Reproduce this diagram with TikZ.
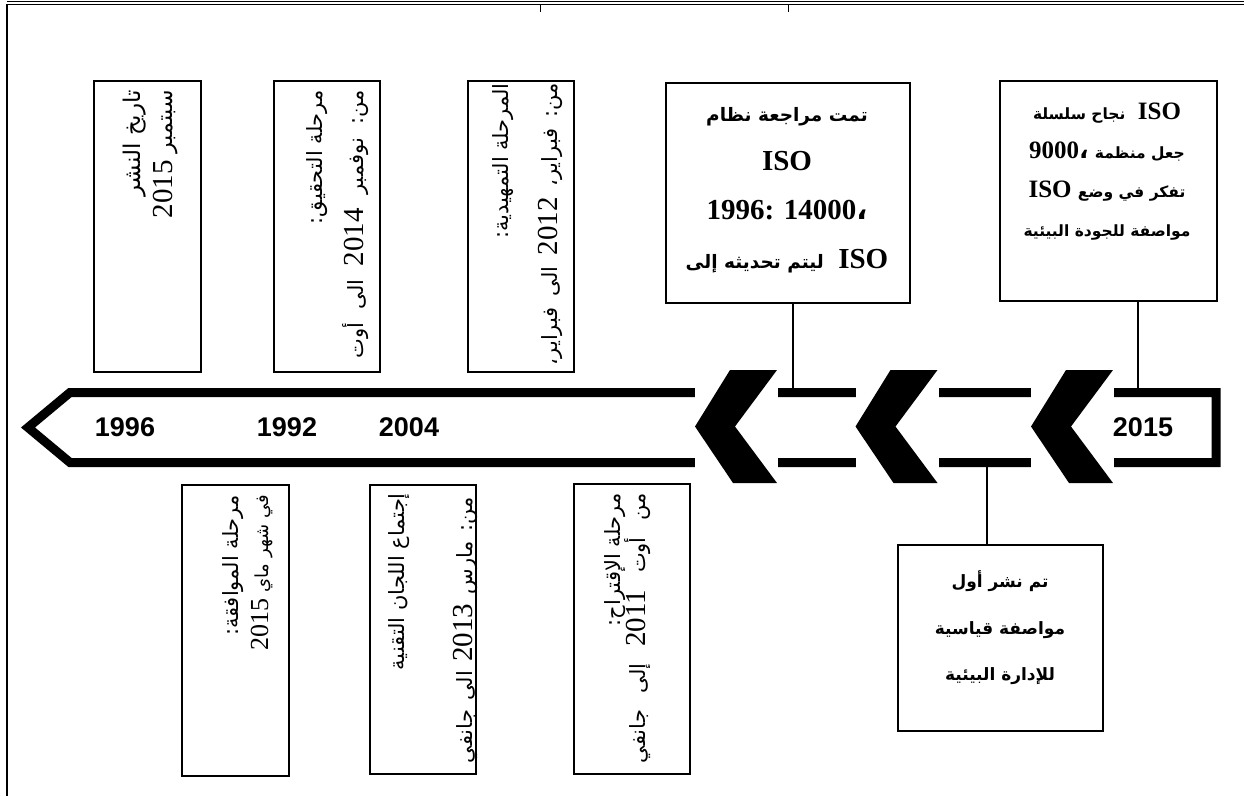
\documentclass[tikz,border=0pt]{standalone}
\usepackage{fontspec}
\setmainfont{Liberation Serif}
\newfontfamily\arab[Script=Arabic]{DejaVu Sans}
\newfontfamily\yrfont{Liberation Sans}
\TeXXeTstate=1
\newcommand\AR[1]{\hbox{\arab\beginR #1\endR}}
\newcommand\JL[2]{\hbox to #1{\arab\beginR #2\endR}}
\newcommand\numf{\rmfamily\fontsize{29}{29}\selectfont}
\newcommand\numg{\rmfamily\fontsize{26}{26}\selectfont}
\usetikzlibrary{calc}
\begin{document}
\begin{tikzpicture}[x=1pt,y=-1pt,
  box/.style={draw, line width=1.6pt, inner sep=0pt, anchor=north west},
  conn/.style={line width=1.2pt},
  rt/.style={rotate=90, anchor=base east, inner sep=0pt, font=\arab\fontsize{21}{21}\selectfont},
  yr/.style={inner sep=0pt, font=\yrfont\bfseries\fontsize{27}{27}\selectfont},
  bt/.style={inner sep=0pt, align=center, font=\bfseries\fontsize{24}{24}\selectfont},
]
\useasboundingbox (0,0) rectangle (1244,796);
\fill[white] (0,0) rectangle (1244,796);
% frame
\draw[line width=0.9pt] (7,1.4) -- (1244,1.4);
\draw[line width=0.9pt] (7,4) -- (1244,4);
\draw[line width=1.2pt] (7,4) -- (7,796);
\draw[line width=1pt] (540,4) -- (540,12);
\draw[line width=1pt] (788,4) -- (788,12);

% timeline band
\draw[line width=9pt, line join=miter] (1216,392.5) -- (70,392.5) -- (28,427.5) -- (70,462.5) -- (1216,462.5) -- cycle;
\coordinate (bandtop) at (0,388);
\coordinate (bandbot) at (0,467);

% chevrons
\foreach \x in {695, 855.5, 1031}{
  \fill[white] (\x,370) rectangle (\x+83,483);
  \fill[black] (\x+35,370) -- (\x+82,370) -- (\x+40,426.5) -- (\x+82,483) -- (\x+38,483) -- (\x,426.5) -- cycle;
}

% years
\node[yr] (y1996) at (125,427) {1996};
\node[yr] (y1992) at (287,427) {1992};
\node[yr] (y2004) at (409,427) {2004};
\node[yr] (y2015) at (1143,427) {2015};

% top rotated boxes
\node[box, minimum width=107pt, minimum height=291pt] (bA) at (93,80) {};
\node[box, minimum width=106pt, minimum height=291pt] (bB) at (273,80) {};
\node[box, minimum width=106pt, minimum height=291pt] (bC) at (467,80) {};

\node[rt, font=\arab\fontsize{23}{23}\selectfont] (tA1) at (140,90) {\AR{تاريخ النشر}};
\node[rt, font=\arab\fontsize{22}{22}\selectfont] (tA2) at (172,90) {\AR{سبتمبر {\numf 2015}}};
\node[rt] (tB1) at (322,90) {\AR{مرحلة التحقيق:}};
\node[rt] (tB2) at (363,90) {\JL{268pt}{من:\hfill نوفمبر\hfill {\numf 2014}\hfill الى\hfill أوت}};
\node[rt] (tC1) at (508,83) {\AR{المرحلة التمهيدية:}};
\node[rt] (tC2) at (557,83) {\JL{282pt}{من:\hfill فبراير،\hfill {\numf 2012}\hfill الى\hfill فبراير،}};

% bottom rotated boxes
\node[box, minimum width=107pt, minimum height=291pt] (bF) at (181,484) {};
\node[box, minimum width=106pt, minimum height=289pt] (bG) at (369,484) {};
\node[box, minimum width=116pt, minimum height=290pt] (bH) at (573,483) {};

\node[rt] (tF1) at (238,495) {\AR{مرحلة الموافقة:}};
\node[rt, font=\arab\fontsize{18}{18}\selectfont] (tF2) at (268,495) {\AR{في شهر ماي {\numg 2015}}};
\node[rt] (tG1) at (404,493) {\AR{إجتماع اللجان التقنية}};
\node[rt] (tG2) at (472,497) {\JL{266pt}{من:\hfill مارس\hfill {\numf 2013}\hfill الى\hfill جانفي}};
\node[rt] (tH1) at (620,493) {\AR{مرحلة الإقتراح:}};
\node[rt] (tH2) at (645,493) {\JL{270pt}{من\hfill أوت\hfill {\numf 2011}\hfill إلى\hfill جانفي}};

% upright boxes
\node[box, minimum width=244pt, minimum height=220pt] (bD) at (665,82) {};
\node[box, minimum width=217pt, minimum height=220pt] (bE) at (999,80) {};
\node[box, minimum width=205pt, minimum height=186pt] (bI) at (897,544) {};

\node[bt, font=\bfseries\fontsize{29}{49}\selectfont] (tD) at (787,190) {%
  {\arab\bfseries\fontsize{18.5}{49}\selectfont\AR{تمت مراجعة نظام}}\\
  ISO\\
  1996: 14000{\arab ،}\\
  {\arab\bfseries\fontsize{18.5}{49}\selectfont\AR{ليتم تحديثه إلى}}\ \ ISO};
\node[bt, font=\bfseries\fontsize{25}{39}\selectfont] (tE) at (1107,172) {%
  {\arab\bfseries\fontsize{15.5}{39}\selectfont\AR{نجاح سلسلة}}\ \ ISO\\
  9000{\arab ،}\ {\arab\bfseries\fontsize{15.5}{39}\selectfont\AR{جعل منظمة}}\\
  ISO\ {\arab\bfseries\fontsize{15.5}{39}\selectfont\AR{تفكر في وضع}}\\
  {\arab\bfseries\fontsize{15.5}{39}\selectfont\AR{مواصفة للجودة البيئية}}};
\node[bt, font=\arab\bfseries\fontsize{17}{46.5}\selectfont] (tI) at (1000,628) {%
  \AR{تم نشر أول}\\
  \AR{مواصفة قياسية}\\
  \AR{للإدارة البيئية}};

% connectors
\coordinate (cD) at (793,0);
\coordinate (cE) at (1138,0);
\coordinate (cI) at (987,0);
\draw[conn] (bD.south -| cD) -- (bandtop -| cD);
\draw[conn] (bE.south -| cE) -- (bandtop -| cE);
\draw[conn] (bandbot -| cI) -- (bI.north -| cI);
\end{tikzpicture}
\end{document}
